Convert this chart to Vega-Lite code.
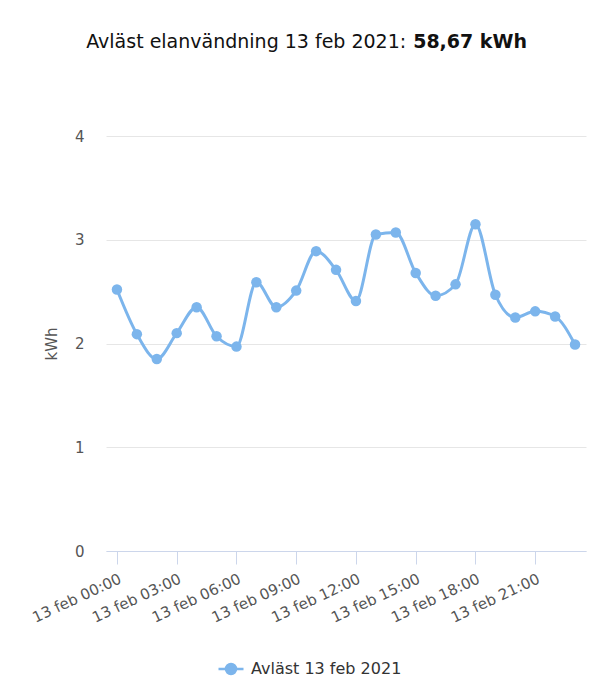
{
  "$schema": "https://vega.github.io/schema/vega-lite/v6.json",
  "autosize": {"type": "none"},
  "width": 480,
  "height": 415,
  "padding": {"left": 106, "top": 136, "right": 21, "bottom": 149},
  "background": "#ffffff",
  "title": {
    "text": "Avläst elanvändning 13 feb 2021:\u00a0\u00a0\u00a0\u00a0\u00a0\u00a0\u00a0\u00a0\u00a0\u00a0\u00a0\u00a0\u00a0\u00a0\u00a0\u00a0\u00a0\u00a0\u00a0\u00a0\u200b",
    "subtitle": "58,67 kWh",
    "anchor": "middle",
    "frame": "group",
    "align": "right",
    "dx": 181,
    "offset": 77,
    "font": "DejaVu Sans",
    "fontSize": 19,
    "fontWeight": "normal",
    "color": "#111111",
    "subtitleFont": "DejaVu Sans",
    "subtitleFontSize": 19,
    "subtitleFontWeight": "bold",
    "subtitleColor": "#111111",
    "subtitlePadding": -19
  },
  "config": {
    "view": {"stroke": null},
    "font": "DejaVu Sans",
    "locale": {
      "time": {
        "dateTime": "%A %e %B %Y %X",
        "date": "%Y-%m-%d",
        "time": "%H:%M:%S",
        "periods": ["fm", "em"],
        "days": ["söndag", "måndag", "tisdag", "onsdag", "torsdag", "fredag", "lördag"],
        "shortDays": ["sön", "mån", "tis", "ons", "tor", "fre", "lör"],
        "months": ["januari", "februari", "mars", "april", "maj", "juni", "juli", "augusti", "september", "oktober", "november", "december"],
        "shortMonths": ["jan", "feb", "mar", "apr", "maj", "jun", "jul", "aug", "sep", "okt", "nov", "dec"]
      }
    }
  },
  "data": {
    "values": [
      {"tid": "2021-02-13T00:00:00", "kwh": 2.52, "serie": "Avläst 13 feb 2021"},
      {"tid": "2021-02-13T01:00:00", "kwh": 2.09, "serie": "Avläst 13 feb 2021"},
      {"tid": "2021-02-13T02:00:00", "kwh": 1.85, "serie": "Avläst 13 feb 2021"},
      {"tid": "2021-02-13T03:00:00", "kwh": 2.10, "serie": "Avläst 13 feb 2021"},
      {"tid": "2021-02-13T04:00:00", "kwh": 2.35, "serie": "Avläst 13 feb 2021"},
      {"tid": "2021-02-13T05:00:00", "kwh": 2.07, "serie": "Avläst 13 feb 2021"},
      {"tid": "2021-02-13T06:00:00", "kwh": 1.97, "serie": "Avläst 13 feb 2021"},
      {"tid": "2021-02-13T07:00:00", "kwh": 2.59, "serie": "Avläst 13 feb 2021"},
      {"tid": "2021-02-13T08:00:00", "kwh": 2.35, "serie": "Avläst 13 feb 2021"},
      {"tid": "2021-02-13T09:00:00", "kwh": 2.51, "serie": "Avläst 13 feb 2021"},
      {"tid": "2021-02-13T10:00:00", "kwh": 2.89, "serie": "Avläst 13 feb 2021"},
      {"tid": "2021-02-13T11:00:00", "kwh": 2.71, "serie": "Avläst 13 feb 2021"},
      {"tid": "2021-02-13T12:00:00", "kwh": 2.41, "serie": "Avläst 13 feb 2021"},
      {"tid": "2021-02-13T13:00:00", "kwh": 3.05, "serie": "Avläst 13 feb 2021"},
      {"tid": "2021-02-13T14:00:00", "kwh": 3.07, "serie": "Avläst 13 feb 2021"},
      {"tid": "2021-02-13T15:00:00", "kwh": 2.68, "serie": "Avläst 13 feb 2021"},
      {"tid": "2021-02-13T16:00:00", "kwh": 2.46, "serie": "Avläst 13 feb 2021"},
      {"tid": "2021-02-13T17:00:00", "kwh": 2.57, "serie": "Avläst 13 feb 2021"},
      {"tid": "2021-02-13T18:00:00", "kwh": 3.15, "serie": "Avläst 13 feb 2021"},
      {"tid": "2021-02-13T19:00:00", "kwh": 2.47, "serie": "Avläst 13 feb 2021"},
      {"tid": "2021-02-13T20:00:00", "kwh": 2.25, "serie": "Avläst 13 feb 2021"},
      {"tid": "2021-02-13T21:00:00", "kwh": 2.31, "serie": "Avläst 13 feb 2021"},
      {"tid": "2021-02-13T22:00:00", "kwh": 2.26, "serie": "Avläst 13 feb 2021"},
      {"tid": "2021-02-13T23:00:00", "kwh": 1.99, "serie": "Avläst 13 feb 2021"}
    ]
  },
  "encoding": {
    "x": {
      "field": "tid",
      "type": "temporal",
      "title": null,
      "scale": {
        "domain": [
          {"year": 2021, "month": 2, "date": 12, "hours": 23, "minutes": 27},
          {"year": 2021, "month": 2, "date": 13, "hours": 23, "minutes": 33}
        ],
        "nice": false
      },
      "axis": {
        "values": [
          {"year": 2021, "month": 2, "date": 13, "hours": 0},
          {"year": 2021, "month": 2, "date": 13, "hours": 3},
          {"year": 2021, "month": 2, "date": 13, "hours": 6},
          {"year": 2021, "month": 2, "date": 13, "hours": 9},
          {"year": 2021, "month": 2, "date": 13, "hours": 12},
          {"year": 2021, "month": 2, "date": 13, "hours": 15},
          {"year": 2021, "month": 2, "date": 13, "hours": 18},
          {"year": 2021, "month": 2, "date": 13, "hours": 21}
        ],
        "format": "%d %b %H:%M",
        "labelAngle": -25,
        "labelFontSize": 15,
        "labelColor": "#555555",
        "labelFont": "DejaVu Sans",
        "labelPadding": 7,
        "tickSize": 13,
        "tickColor": "#ccd6eb",
        "domainColor": "#ccd6eb",
        "domainWidth": 1,
        "grid": false,
        "labelOverlap": false
      }
    },
    "y": {
      "field": "kwh",
      "type": "quantitative",
      "title": "kWh",
      "scale": {"domain": [0, 4], "nice": false},
      "axis": {
        "values": [0, 1, 2, 3, 4],
        "domain": false,
        "ticks": false,
        "grid": true,
        "gridColor": "#e6e6e6",
        "labelFontSize": 15,
        "labelColor": "#555555",
        "labelFont": "DejaVu Sans",
        "labelPadding": 22,
        "titleFontSize": 15,
        "titleFontWeight": "normal",
        "titleColor": "#555555",
        "titleFont": "DejaVu Sans",
        "titlePadding": 15
      }
    },
    "color": {
      "field": "serie",
      "type": "nominal",
      "scale": {"range": ["#7cb5ec"]},
      "legend": {
        "title": null,
        "orient": "none",
        "legendX": 111,
        "legendY": 519,
        "direction": "horizontal",
        "labelFontSize": 16,
        "labelColor": "#333333",
        "labelFont": "DejaVu Sans",
        "labelOffset": 6,
        "symbolType": "M-1,0L1,0M-0.4,0A0.4,0.4,0,1,0,0.4,0A0.4,0.4,0,1,0,-0.4,0Z",
        "symbolSize": 625,
        "symbolStrokeWidth": 2.5,
        "symbolStrokeColor": "#7cb5ec",
        "symbolFillColor": "#7cb5ec",
        "symbolOpacity": 1
      }
    }
  },
  "layer": [
    {
      "mark": {"type": "line", "interpolate": "monotone", "strokeWidth": 3}
    },
    {
      "mark": {"type": "point", "filled": true, "size": 110, "opacity": 1, "shape": "circle"}
    }
  ]
}
